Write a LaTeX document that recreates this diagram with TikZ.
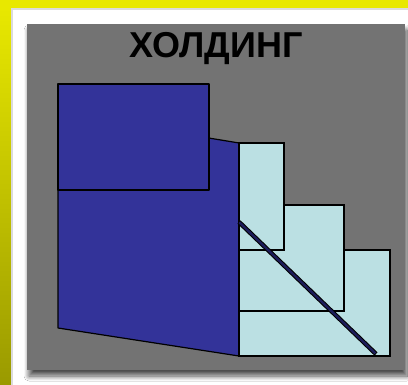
\documentclass[tikz,border=0pt]{standalone}
\usepackage{fontspec}
\setmainfont{Liberation Sans}
\usetikzlibrary{shadows.blur}
\definecolor{holdyellow}{HTML}{E8E800}
\definecolor{holdolive}{HTML}{9A9A00}
\definecolor{holdgray}{HTML}{737373}
\definecolor{holdblue}{HTML}{333399}
\definecolor{holdcyan}{HTML}{BBE0E3}
\definecolor{holdnavy}{HTML}{1C1C5A}
\begin{document}
\begin{tikzpicture}[x=1pt,y=-1pt, blk/.style={draw=black,line width=1.2pt,fill=holdblue,line join=round}, sub/.style={draw=black,line width=1.2pt,fill=holdcyan}, ttl/.style={font=\bfseries\fontsize{36}{40}\selectfont,anchor=base,inner sep=0pt}]
\useasboundingbox (0,0) rectangle (408,384);
% background and frame
\fill[holdyellow] (0,0) rectangle (408,384);
\shade[top color=holdyellow,bottom color=holdolive] (0,8) rectangle (11,384);
\fill[white] (11,8) rectangle (408,384);
\draw[black!14,line width=2pt] (12,386) -- (12,9) -- (410,9);
\fill[holdgray,blur shadow={shadow xshift=2pt,shadow yshift=-6pt,shadow blur steps=10,shadow opacity=70,shadow blur radius=5pt}] (27,24) rectangle (405,370);
\node[ttl] (title) at (216,57) {ХОЛДИНГ};
% holding body
\filldraw[blk] (58,113) -- (239,143) -- (239,356) -- (58,328) -- cycle;
\filldraw[blk] (58,84) rectangle (209,190);
% subsidiaries
\filldraw[sub] (239,250) rectangle (390,356);
\filldraw[sub] (239,205) rectangle (344,311);
\filldraw[sub] (239,143) rectangle (284,250);
% diagonal
\draw[black,line width=4.5pt] (239,222) -- (376,354);
\draw[holdnavy,line width=2.4pt,shorten <=0.5pt,shorten >=1pt] (239,222) -- (376,354);
\end{tikzpicture}
\end{document}
